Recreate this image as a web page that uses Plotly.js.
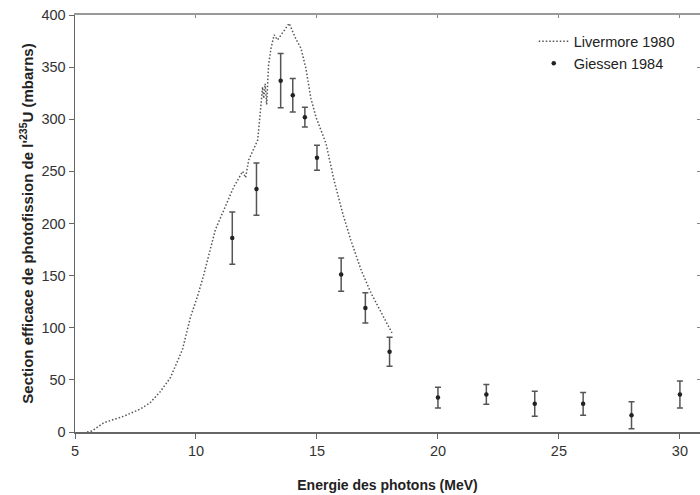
<!DOCTYPE html>
<html>
<head>
<meta charset="utf-8">
<script src="https://cdn.plot.ly/plotly-3.0.1.min.js"></script>
<style>html,body{margin:0;padding:0;background:#fff;overflow:hidden}#chart{width:700px;height:495px}</style>
</head>
<body>
<div id="chart"></div>
<script>
// Livermore 1980 (dotted curve)
var livermoreE = [5.5, 5.7, 6.2, 7.0, 7.7, 8.1, 8.5, 8.94, 9.44, 9.77, 10.06, 10.3, 10.8, 11.14, 11.56, 11.93, 12.05, 12.18, 12.34, 12.55, 12.68, 12.75, 12.8, 12.86, 12.92, 13.0, 13.1, 13.23, 13.37, 13.85, 14.13, 14.34, 14.54, 14.75, 14.96, 15.37, 15.7, 16.06, 16.4, 16.83, 17.24, 17.66, 18.1];
var livermoreS = [0, 1, 9, 15, 22, 28, 38, 52, 79, 110, 130, 149, 194, 213, 235, 250, 244, 261, 270, 280, 312, 331, 320, 334, 314, 352, 368, 381, 376, 392, 377, 368, 349, 320, 302, 277, 242, 210, 184, 155, 133, 114, 95];

// Giessen 1984 (points with error bars)
var giessenE = [11.5, 12.5, 13.5, 14, 14.5, 15, 16, 17, 18, 20, 22, 24, 26, 28, 30];
var giessenS = [186, 233, 337, 323, 302, 263, 151, 119, 77, 33, 36, 27, 27, 16, 36];
var giessenErr = [25, 25, 26, 16, 9.5, 12, 16, 14.5, 14, 10, 9.5, 12, 11, 13, 13];

var xTicks = [5, 10, 15, 20, 25, 30];
var yTicks = [0, 50, 100, 150, 200, 250, 300, 350, 400];

var traces = [
  {
    x: livermoreE, y: livermoreS, type: 'scatter', mode: 'lines',
    name: 'Livermore 1980',
    line: {color: '#555', width: 1.5, dash: '1.5px,2px'}
  },
  {
    x: giessenE, y: giessenS, type: 'scatter', mode: 'markers',
    name: 'Giessen 1984',
    marker: {color: '#222', size: 4.5},
    error_y: {type: 'data', array: giessenErr, visible: true, color: '#555', thickness: 1.5, width: 3}
  }
];

var tickFont = {family: 'Liberation Sans, Arial, sans-serif', size: 14.5, color: '#333'};
var xTitleFont = {family: 'Liberation Sans, Arial, sans-serif', size: 14, color: '#222', weight: 'bold'};
var yTitleFont = {family: 'Liberation Sans, Arial, sans-serif', size: 15, color: '#222', weight: 'bold'};

var layout = {
  width: 700, height: 495,
  margin: {l: 75, r: 0, t: 15, b: 63},
  paper_bgcolor: '#fff', plot_bgcolor: '#fff',
  showlegend: true,
  legend: {x: 0.734, y: 0.975, xanchor: 'left', yanchor: 'top', font: {family: 'Liberation Sans, Arial, sans-serif', size: 14.5, color: '#222'}, bgcolor: 'rgba(0,0,0,0)'},
  xaxis: {
    range: [5, 30.83], tickvals: xTicks, ticktext: xTicks.map(String),
    showgrid: false, zeroline: false, showline: true, linecolor: '#666', linewidth: 1.5,
    ticks: 'outside', ticklen: 5, tickcolor: '#666', tickfont: tickFont,
    title: {text: '<b>Energie des photons (MeV)</b>', font: xTitleFont, standoff: 22}
  },
  xaxis2: {
    overlaying: 'x', side: 'top', range: [5, 30.83], tickvals: xTicks,
    showticklabels: false, showgrid: false, zeroline: false, showline: true,
    linecolor: '#999', linewidth: 2, ticks: 'inside', ticklen: 3, tickcolor: '#888'
  },
  yaxis: {
    range: [0, 400], tickvals: yTicks, ticktext: yTicks.map(String),
    showgrid: false, zeroline: false, showline: true, linecolor: '#666', linewidth: 1.5,
    ticks: 'outside', ticklen: 5, tickcolor: '#666', tickfont: tickFont,
    title: {text: "<b>Section efficace de photofission de l'<sup>235</sup>U (mbarns)</b>", font: yTitleFont, standoff: 4}
  },
  yaxis2: {
    overlaying: 'y', side: 'right', range: [0, 400], tickvals: yTicks,
    showticklabels: false, showgrid: false, zeroline: false, showline: false,
    ticks: 'inside', ticklen: 3, tickcolor: '#888'
  }
};

// invisible trace to activate the mirrored axes
traces.push({x: [5], y: [0], xaxis: 'x2', yaxis: 'y2', mode: 'markers', marker: {opacity: 0}, showlegend: false, hoverinfo: 'skip'});

Plotly.newPlot('chart', traces, layout, {displayModeBar: false, staticPlot: true});
</script>
</body>
</html>
